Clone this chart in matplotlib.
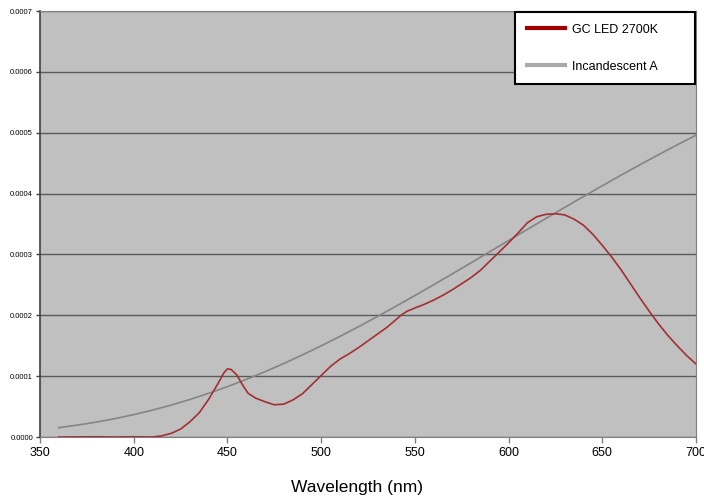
import numpy as np
import matplotlib
matplotlib.use("Agg")
import matplotlib.pyplot as plt

plt.rcParams['font.family'] = ['Liberation Sans', 'DejaVu Sans']

# GC LED 2700K spectrum (values in units of 1e-4)
led_nm = [360, 370, 380, 390, 400, 405, 410, 415, 420, 425, 430, 435, 440, 445, 448,
          450, 452, 455, 458, 461, 465, 470, 475, 480, 485, 490, 495, 500, 505, 510,
          515, 520, 525, 530, 535, 540, 543, 546, 550, 555, 560, 565, 570, 575, 580, 585,
          590, 595, 600, 605, 610, 615, 620, 625, 630, 635, 640, 645, 650, 655, 660,
          665, 670, 675, 680, 685, 690, 695, 700]
led_val = [0.0, 0.002, 0.004, 0.0, 0.004, 0.002, 0.0, 0.02, 0.06, 0.13, 0.25, 0.40, 0.62, 0.88, 1.05,
           1.12, 1.11, 1.02, 0.86, 0.72, 0.64, 0.58, 0.53, 0.54, 0.61, 0.71, 0.86, 1.01, 1.16, 1.28,
           1.37, 1.47, 1.58, 1.69, 1.80, 1.93, 2.01, 2.07, 2.12, 2.18, 2.25, 2.33, 2.42, 2.52, 2.62, 2.74,
           2.89, 3.04, 3.19, 3.35, 3.52, 3.62, 3.66, 3.67, 3.65, 3.58, 3.48, 3.33, 3.15, 2.96, 2.75,
           2.52, 2.29, 2.07, 1.86, 1.67, 1.50, 1.34, 1.20]

# Incandescent (illuminant A) curve, units of 1e-4
inc_nm = [360, 370, 380, 390, 400, 410, 420, 430, 440, 450, 460, 470, 480, 490, 500, 510, 520, 530,
          540, 550, 560, 570, 580, 590, 600, 610, 620, 630, 640, 650, 660, 670, 680, 690, 700]
inc_val = [0.154, 0.196, 0.245, 0.302, 0.368, 0.442, 0.525, 0.617, 0.718, 0.828, 0.946, 1.073,
           1.207, 1.349, 1.498, 1.653, 1.814, 1.980, 2.150, 2.325, 2.502, 2.682, 2.863, 3.046,
           3.229, 3.411, 3.593, 3.774, 3.953, 4.129, 4.303, 4.473, 4.640, 4.802, 4.960]

fig = plt.figure(figsize=(7.04, 5.04), dpi=100)
ax = fig.add_axes([0.0568, 0.1329, 0.9318, 0.8451])
ax.set_facecolor('#C0C0C0')

ax.plot(led_nm, np.array(led_val) * 1e-4, color='#A33030', lw=1.2, label='GC LED 2700K', zorder=3)
ax.plot(inc_nm, np.array(inc_val) * 1e-4, color='#858585', lw=1.2, label='Incandescent A', zorder=2)

ax.set_xlim(350, 700)
ax.set_ylim(0, 0.0007)
ax.set_xticks(np.arange(350, 701, 50))
ax.set_yticks(np.arange(0, 0.00071, 0.0001))
ax.yaxis.set_major_formatter(matplotlib.ticker.FormatStrFormatter('%.4f'))
ax.grid(axis='y', color='#5A5A5A', lw=1)
ax.set_axisbelow(True)

ax.tick_params(axis='y', labelsize=5.5, length=3, width=1, color='#404040', pad=2)
ax.tick_params(axis='x', labelsize=9, length=4, width=1, color='#808080', pad=3)
for s in ['top', 'right', 'bottom']:
    ax.spines[s].set_color('#808080')
ax.spines['left'].set_color('#404040')
ax.spines['left'].set_linewidth(1.2)

ax.set_xlabel('Wavelength (nm)', fontsize=12.5, va='top')
ax.xaxis.set_label_coords(0.483, -0.102)

leg = ax.legend(loc='upper left', bbox_to_anchor=(0.7226, 1.0, 0.2775, 0.0), mode='expand',
                fontsize=9, frameon=True, fancybox=False, framealpha=1, edgecolor='black',
                handlelength=3.1, labelspacing=2.0, borderpad=0.9, borderaxespad=0.1,
                handletextpad=0.5)
leg.get_frame().set_linewidth(1.5)
for line in leg.get_lines():
    line.set_linewidth(3)
leg.get_lines()[0].set_color('#A00000')
leg.get_lines()[1].set_color('#AAAAAA')

fig.savefig('out.png', dpi=100)
